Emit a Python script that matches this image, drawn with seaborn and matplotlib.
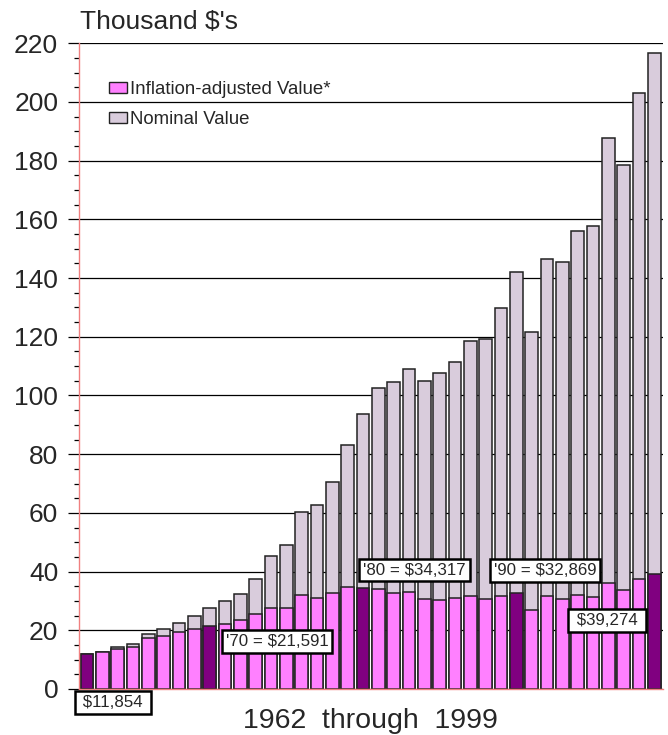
import matplotlib
matplotlib.use("Agg")
import numpy as np
import pandas as pd
import seaborn as sns
import matplotlib.pyplot as plt
from matplotlib.patches import Patch
from matplotlib.ticker import MultipleLocator

# Values in thousand dollars, 1962-1999
years = list(range(1962, 2000))
nominal = [11.854, 12.7, 14.2, 15.2, 18.6, 20.3, 22.6, 24.8, 27.5, 29.9,
           32.4, 37.4, 45.3, 49.2, 60.2, 62.6, 70.5, 83.3, 93.6, 102.4,
           104.6, 109.1, 104.9, 107.8, 111.5, 118.4, 119.2, 129.7, 142.2, 121.5,
           146.4, 145.5, 156.1, 157.7, 187.7, 178.4, 202.9, 216.8]
adjusted = [11.854, 12.6, 13.5, 14.4, 17.3, 18.2, 19.5, 20.5, 21.591, 22.3,
            23.5, 25.5, 27.7, 27.5, 31.9, 31.1, 32.6, 34.7, 34.317, 34.1,
            32.8, 33.1, 30.6, 30.4, 30.9, 31.6, 30.5, 31.6, 32.869, 27.0,
            31.6, 30.6, 32.0, 31.3, 36.2, 33.7, 37.6, 39.274]
highlight_years = [1962, 1970, 1980, 1990, 1999]
y_ticks = list(range(0, 221, 20))

PINK = "#FF80FF"
DARK = "#800080"
NOMINAL = "#D9CCDC"
EDGE = "#222222"
SPINE = "#F08080"

df = pd.DataFrame({"year": years, "nominal": nominal, "adjusted": adjusted})
df["group"] = np.where(df["year"].isin(highlight_years), "decade", "other")

sns.set_style("white")
plt.rcParams["font.family"] = ["Liberation Sans", "DejaVu Sans"]

fig = plt.figure(figsize=(6.68, 7.35), dpi=100)
ax = fig.add_axes([0.1183, 0.0626, 0.8743, 0.8785])

# nominal bars behind, inflation-adjusted bars in front
sns.barplot(data=df, x="year", y="nominal", color=NOMINAL, width=0.83,
            edgecolor=EDGE, linewidth=1.1, saturation=1, ax=ax, errorbar=None)
sns.barplot(data=df, x="year", y="adjusted", hue="group",
            palette={"decade": DARK, "other": PINK}, dodge=False, legend=False,
            width=0.83, edgecolor=EDGE, linewidth=1.1, saturation=1, ax=ax,
            errorbar=None)

ax.set_xlim(-0.52, 37.57)
ax.set_ylim(0, 220)
ax.set_yticks(y_ticks)
ax.yaxis.set_minor_locator(MultipleLocator(5))
ax.set_xticks([])
ax.set_xlabel("")
ax.set_ylabel("")
ax.yaxis.grid(True, which="major", color="black", linewidth=0.9)
ax.set_axisbelow(True)
ax.tick_params(axis="y", which="major", length=8, width=0.9, color="black",
               pad=7, labelsize=19, left=True)
ax.tick_params(axis="y", which="minor", length=3.5, width=0.9, color="black",
               left=True)
for side in ("top", "right"):
    ax.spines[side].set_visible(False)
for side in ("left", "bottom"):
    ax.spines[side].set_color(SPINE)
    ax.spines[side].set_linewidth(1.0)

# value callouts for the decade years
box = dict(boxstyle="square,pad=0.22", fc="white", ec="black", lw=1.8)
def money(v):
    return f"${v * 1000:,.0f}"

callouts = [
    (0, f" {money(adjusted[0])} ", 1.7, -4.6),
    (8, f"'70 = {money(adjusted[8])}", 12.39, 16.2),
    (18, f"'80 = {money(adjusted[18])}", 21.36, 40.5),
    (28, f"'90 = {money(adjusted[28])}", 29.88, 40.4),
    (37, f" {money(adjusted[37])} ", 33.9, 23.3),
]
for _, label, tx, ty in callouts:
    ax.text(tx, ty, label, ha="center", va="center", fontsize=12.2,
            bbox=box, clip_on=False, zorder=5)

handles = [Patch(facecolor=PINK, edgecolor=EDGE, linewidth=1.0,
                 label="Inflation-adjusted Value*"),
           Patch(facecolor=NOMINAL, edgecolor=EDGE, linewidth=1.0,
                 label="Nominal Value")]
ax.legend(handles=handles, loc="upper left", bbox_to_anchor=(0.038, 0.953),
          frameon=False, fontsize=13.4, handlelength=1.0, handleheight=0.55,
          handletextpad=0.15, labelspacing=0.69, borderaxespad=0)

fig.text(0.120, 0.970, "Thousand $'s", fontsize=19, ha="left", va="center")
fig.text(0.5546, 0.019, "1962  through  1999", fontsize=20.5, ha="center",
         va="center")

fig.savefig("out.png", dpi=100)
